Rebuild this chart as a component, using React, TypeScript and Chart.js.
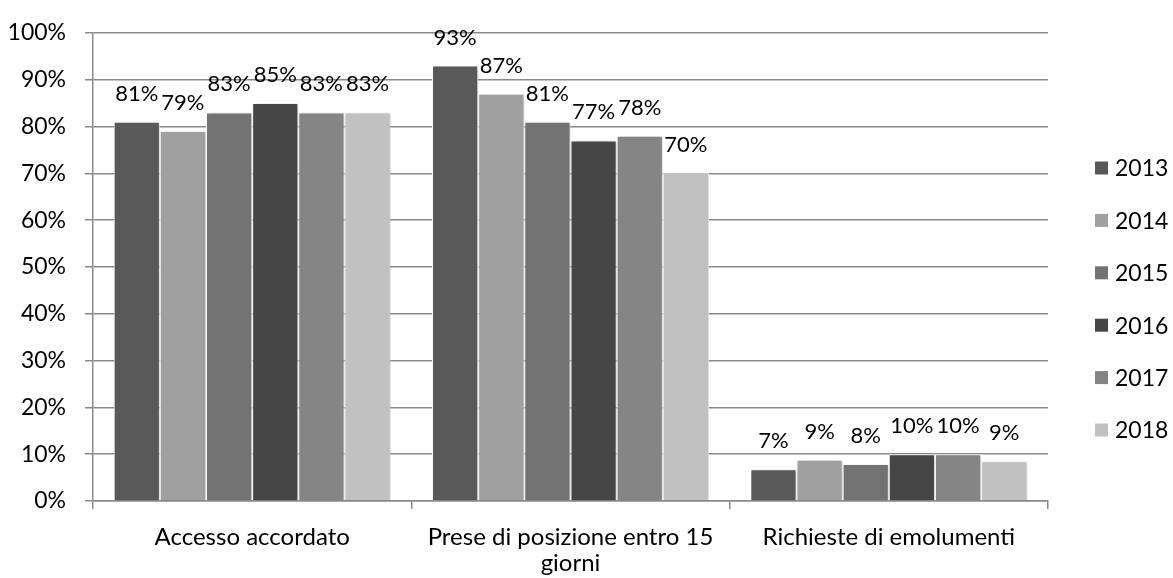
import React, { useEffect, useRef } from "react";
import { Chart, registerables } from "chart.js";

Chart.register(...registerables);

const categories: (string | string[])[] = [
  "Accesso accordato",
  ["Prese di posizione entro 15", "giorni"],
  "Richieste di emolumenti",
];
const years = ["2013", "2014", "2015", "2016", "2017", "2018"];
const values2013 = [81, 93, 6.8];
const values2014 = [79, 87, 8.8];
const values2015 = [83, 81, 7.9];
const values2016 = [85, 77, 10];
const values2017 = [83, 78, 10];
const values2018 = [83, 70, 8.5];
const seriesValues = [values2013, values2014, values2015, values2016, values2017, values2018];
const seriesColors = ["#595959", "#a0a0a0", "#737373", "#464646", "#858585", "#c1c1c1"];
const yTicks = [0, 10, 20, 30, 40, 50, 60, 70, 80, 90, 100];

const FONT = "Lato, 'Open Sans', sans-serif";
const GRID = "#8a8a8a";

const shadowAndLabels = {
  id: "shadowAndLabels",
  beforeDatasetsDraw(chart: any) {
    const ctx = chart.ctx;
    ctx.save();
    ctx.shadowColor = "rgba(0,0,0,0.22)";
    ctx.shadowBlur = 4;
    ctx.shadowOffsetX = 1.5;
    ctx.shadowOffsetY = 1;
  },
  afterDatasetsDraw(chart: any) {
    const ctx = chart.ctx;
    ctx.restore();
    ctx.save();
    ctx.font = `22px ${FONT}`;
    ctx.fillStyle = "#000";
    ctx.textAlign = "center";
    ctx.textBaseline = "alphabetic";
    chart.data.datasets.forEach((ds: any, di: number) => {
      const meta = chart.getDatasetMeta(di);
      meta.data.forEach((bar: any, i: number) => {
        const v = ds.data[i];
        ctx.fillText(Math.round(v) + "%", bar.x, bar.y - 21);
      });
    });
    ctx.restore();
  },
  afterDraw(chart: any) {
    const ctx = chart.ctx;
    ctx.save();
    ctx.font = `23px ${FONT}`;
    ctx.textBaseline = "middle";
    ctx.textAlign = "left";
    chart.data.datasets.forEach((ds: any, di: number) => {
      const y = 168 + di * 52.4;
      ctx.fillStyle = ds.backgroundColor;
      ctx.fillRect(1095, y - 6.5, 13, 13);
      ctx.fillStyle = "#000";
      ctx.fillText(ds.label, 1115, y + 1);
    });
    ctx.restore();
  },
};

export default function App() {
  const ref = useRef<HTMLCanvasElement>(null);
  useEffect(() => {
    if (!ref.current) return;
    const chart = new Chart(ref.current, {
      type: "bar",
      data: {
        labels: categories as any,
        datasets: years.map((y, i) => ({
          label: y,
          data: seriesValues[i],
          backgroundColor: seriesColors[i],
          borderColor: "#ffffff",
          borderWidth: 1,
          categoryPercentage: 0.87,
          barPercentage: 1,
        })),
      },
      options: {
        responsive: false,
        animation: false,
        layout: { padding: { left: 0, right: 125, top: 27, bottom: 0 } },
        plugins: {
          legend: { display: false },
          tooltip: { enabled: false },
        },
        scales: {
          x: {
            grid: {
              display: true,
              drawOnChartArea: false,
              drawTicks: true,
              tickLength: 8,
              color: GRID,
              lineWidth: 1.5,
              offset: true,
            },
            border: { display: true, color: GRID, width: 1.5 },
            ticks: {
              font: { family: FONT, size: 24, lineHeight: 1.1 },
              color: "#000",
              padding: 15,
              maxRotation: 0,
              autoSkip: false,
            },
            afterFit: (s: any) => {
              s.height = 77;
            },
          },
          y: {
            min: 0,
            max: 100,
            afterBuildTicks: (s: any) => {
              s.ticks = yTicks.map((v) => ({ value: v }));
            },
            ticks: {
              callback: (v: any) => v + "%",
              font: { family: FONT, size: 23 },
              color: "#000",
              padding: 19,
            },
            grid: { color: GRID, lineWidth: 1.5, tickLength: 8 },
            border: { display: true, color: GRID, width: 1.5 },
            afterFit: (s: any) => {
              s.width = 93;
            },
          },
        },
      },
      plugins: [shadowAndLabels],
    });
    return () => chart.destroy();
  }, []);
  return (
    <div style={{ position: "absolute", left: 0, top: 0, width: 1173, height: 578, background: "#fff" }}>
      <canvas ref={ref} width={1173} height={578} />
    </div>
  );
}
